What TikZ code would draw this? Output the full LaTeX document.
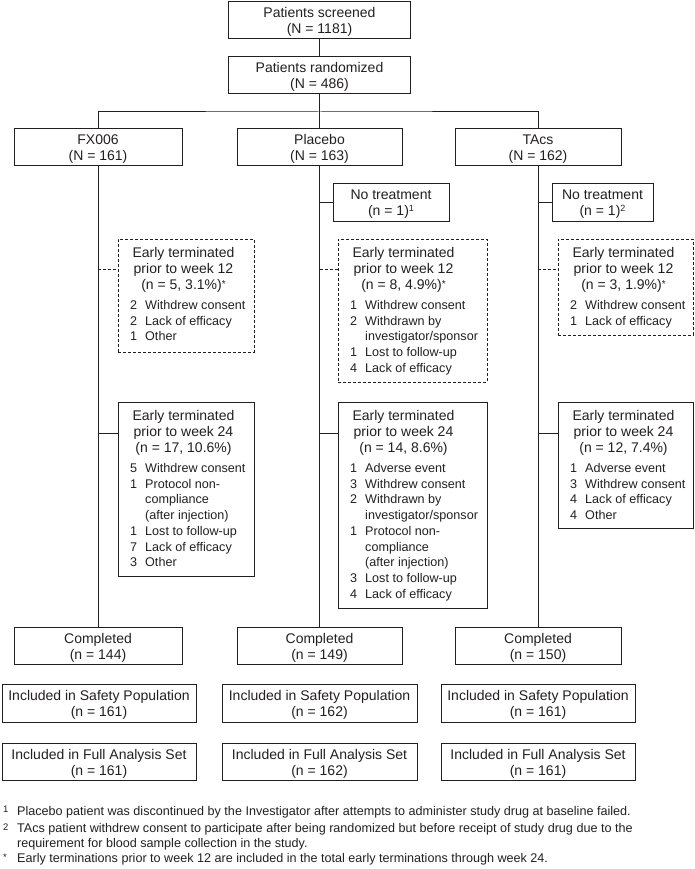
\documentclass[tikz,border=0pt]{standalone}
\usepackage{fontspec}
\setmainfont{Liberation Sans}
\definecolor{ink}{HTML}{231F20}
\newcommand\fntbig{\fontsize{14}{16}\selectfont}
\newcommand\fntsml{\fontsize{12.6}{15.75}\selectfont}
\newcommand\astr{\raisebox{2.5pt}{\fontsize{10}{10}\selectfont *}}
\newcommand\supr[1]{\raisebox{4pt}{\fontsize{9}{9}\selectfont #1}}
\newcommand\fnmark[1]{\raisebox{2.5pt}{\fontsize{9.5}{9.5}\selectfont #1}}
\newcommand\bt[2]{\raisebox{-2.3pt}[\height][\depth]{\begin{tabular}{@{}c@{}}#1\\#2\end{tabular}}}
\begin{document}
\begin{tikzpicture}[x=1pt,y=-1pt]
\tikzset{
  every node/.style={inner sep=0pt, text=ink},
  box/.style={draw=ink, line width=1pt, font=\fntbig, minimum height=37pt},
  sbox/.style={draw=ink, line width=1pt},
  dbox/.style={draw=ink, line width=1pt, dash pattern=on 3pt off 2pt},
  hd/.style={anchor=base, font=\fntbig},
  lst/.style={anchor=base west, font=\fntsml},
  fnt/.style={anchor=base west, font=\fntsml},
  link/.style={draw=ink, line width=1pt},
  dlink/.style={draw=ink, line width=1pt, dash pattern=on 3pt off 2pt},
}
\useasboundingbox (0,0) rectangle (695,869);

% top
\node[box, minimum width=182pt] (scr) at (319.5,20.5) {\bt{Patients screened}{(N = 1181)}};
\node[box, minimum width=182pt] (rnd) at (319.5,75) {\bt{Patients randomized}{(N = 486)}};
\coordinate (split) at (319.5,112);

% groups
\node[box, minimum width=168pt] (fx) at (98,147.5) {\bt{FX006}{(N = 161)}};
\node[box, minimum width=165pt] (pl) at (319.5,147.5) {\bt{Placebo}{(N = 163)}};
\node[box, minimum width=166pt] (ta) at (538,147.5) {\bt{TAcs}{(N = 162)}};

% completed
\node[box, minimum width=168pt] (fxc) at (98,645.5) {\bt{Completed}{(n = 144)}};
\node[box, minimum width=165pt] (plc) at (319.5,645.5) {\bt{Completed}{(n = 149)}};
\node[box, minimum width=166pt] (tac) at (538,645.5) {\bt{Completed}{(n = 150)}};

% safety
\node[box, minimum width=194pt, minimum height=38pt] (fxs) at (99,703) {\bt{Included in Safety Population}{(n = 161)}};
\node[box, minimum width=195pt, minimum height=38pt] (pls) at (319.5,703) {\bt{Included in Safety Population}{(n = 162)}};
\node[box, minimum width=194pt, minimum height=38pt] (tas) at (538,703) {\bt{Included in Safety Population}{(n = 161)}};

% full analysis
\node[box, minimum width=194pt] (fxf) at (99,761.5) {\bt{Included in Full Analysis Set}{(n = 161)}};
\node[box, minimum width=195pt] (plf) at (319.5,761.5) {\bt{Included in Full Analysis Set}{(n = 162)}};
\node[box, minimum width=194pt] (taf) at (538,761.5) {\bt{Included in Full Analysis Set}{(n = 161)}};

% no treatment
\node[box, minimum width=116pt, minimum height=38pt] (plnt) at (391,202) {\bt{No treatment}{(n = 1)\supr{1}}};
\node[box, minimum width=101pt, minimum height=38pt] (tant) at (602.5,202) {\bt{No treatment}{(n = 1)\supr{2}}};

% week 12 boxes
\node[dbox, minimum width=136pt, minimum height=113pt] (fxa) at (186,295.5) {};
\node[hd] (fxah) at (183.5,257.5) {\begin{tabular}[t]{@{}c@{}}Early terminated\\prior to week 12\\(n = 5, 3.1\%)\astr\end{tabular}};
\node[lst] (fxal) at (130,309.3) {\begin{tabular}[t]{@{}l@{\hspace{8pt}}l@{}}2 & Withdrew consent\\2 & Lack of efficacy\\1 & Other\end{tabular}};

\node[dbox, minimum width=149pt, minimum height=143pt] (pla) at (412.5,310.5) {};
\node[hd] (plah) at (403.5,257.5) {\begin{tabular}[t]{@{}c@{}}Early terminated\\prior to week 12\\(n = 8, 4.9\%)\astr\end{tabular}};
\node[lst] (plal) at (350,309.3) {\begin{tabular}[t]{@{}l@{\hspace{8pt}}l@{}}1 & Withdrew consent\\2 & Withdrawn by\\ & investigator/sponsor\\1 & Lost to follow-up\\4 & Lack of efficacy\end{tabular}};

\node[dbox, minimum width=135pt, minimum height=96pt] (taa) at (625.5,287) {};
\node[hd] (taah) at (623.5,257.5) {\begin{tabular}[t]{@{}c@{}}Early terminated\\prior to week 12\\(n = 3, 1.9\%)\astr\end{tabular}};
\node[lst] (taal) at (570,309.3) {\begin{tabular}[t]{@{}l@{\hspace{8pt}}l@{}}2 & Withdrew consent\\1 & Lack of efficacy\end{tabular}};

% week 24 boxes
\node[sbox, minimum width=136pt, minimum height=174pt] (fxb) at (186,489) {};
\node[hd] (fxbh) at (183.5,420.5) {\begin{tabular}[t]{@{}c@{}}Early terminated\\prior to week 24\\(n = 17, 10.6\%)\end{tabular}};
\node[lst] (fxbl) at (130,472.3) {\begin{tabular}[t]{@{}l@{\hspace{8pt}}l@{}}5 & Withdrew consent\\1 & Protocol non-\\ & compliance\\ & (after injection)\\1 & Lost to follow-up\\7 & Lack of efficacy\\3 & Other\end{tabular}};

\node[sbox, minimum width=149pt, minimum height=206pt] (plb) at (412.5,505) {};
\node[hd] (plbh) at (403.5,420.5) {\begin{tabular}[t]{@{}c@{}}Early terminated\\prior to week 24\\(n = 14, 8.6\%)\end{tabular}};
\node[lst] (plbl) at (350,472.3) {\begin{tabular}[t]{@{}l@{\hspace{8pt}}l@{}}1 & Adverse event\\3 & Withdrew consent\\2 & Withdrawn by\\ & investigator/sponsor\\1 & Protocol non-\\ & compliance\\ & (after injection)\\3 & Lost to follow-up\\4 & Lack of efficacy\end{tabular}};

\node[sbox, minimum width=135pt, minimum height=126pt] (tab) at (625.5,465) {};
\node[hd] (tabh) at (623.5,420.5) {\begin{tabular}[t]{@{}c@{}}Early terminated\\prior to week 24\\(n = 12, 7.4\%)\end{tabular}};
\node[lst] (tabl) at (570,472.3) {\begin{tabular}[t]{@{}l@{\hspace{8pt}}l@{}}1 & Adverse event\\3 & Withdrew consent\\4 & Lack of efficacy\\4 & Other\end{tabular}};

% attachment points
\coordinate (fxa-in) at (118,269);
\coordinate (pla-in) at (338,269);
\coordinate (taa-in) at (558,269);
\coordinate (fxb-in) at (118,433);
\coordinate (plb-in) at (338,433);
\coordinate (tab-in) at (558,433);

% connectors
\draw[link] (scr) -- (rnd);
\draw[link] (rnd) -- (split);
\draw[link] (fx.north) |- (split) -| (ta.north);
\draw[link] (split) -- (pl);
\draw[link] (fx) -- (fxc);
\draw[link] (pl) -- (plc);
\draw[link] (ta) -- (tac);
\draw[link] (plnt.west -| pl) -- (plnt.west);
\draw[link] (tant.west -| ta) -- (tant.west);
\draw[dlink] (fxa-in -| fx) -- (fxa-in);
\draw[dlink] (pla-in -| pl) -- (pla-in);
\draw[dlink] (taa-in -| ta) -- (taa-in);
\draw[link] (fxb-in -| fx) -- (fxb-in);
\draw[link] (plb-in -| pl) -- (plb-in);
\draw[link] (tab-in -| ta) -- (tab-in);

% footnotes
\node[fnt] (fm1) at (3,815) {\fnmark{1}};
\node[fnt] (ft1) at (17,815) {Placebo patient was discontinued by the Investigator after attempts to administer study drug at baseline failed.};
\node[fnt] (fm2) at (3,832.5) {\fnmark{2}};
\node[fnt] (ft2) at (17,832.5) {TAcs patient withdrew consent to participate after being randomized but before receipt of study drug due to the};
\node[fnt] (ft2b) at (17,847) {requirement for blood sample collection in the study.};
\node[fnt] (fm3) at (3,862.5) {\fnmark{*}};
\node[fnt] (ft3) at (17,862.5) {Early terminations prior to week 12 are included in the total early terminations through week 24.};
\end{tikzpicture}
\end{document}
